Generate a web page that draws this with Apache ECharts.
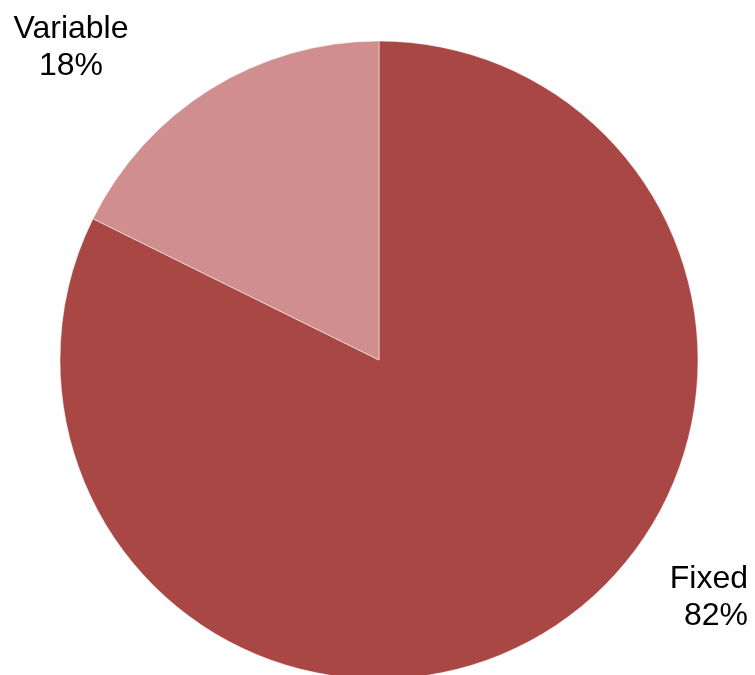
<!DOCTYPE html>
<html>
<head>
<meta charset="utf-8">
<script src="https://cdn.jsdelivr.net/npm/echarts@6/dist/echarts.min.js"></script>
<style>html,body{margin:0;padding:0;background:#fff}#c{width:755px;height:675px}</style>
</head>
<body>
<div id="c"></div>
<script>
const categories = ['Fixed', 'Variable'];
const values = [82.3, 17.7];
const colors = ['#A94745', '#D08F8E'];
const labelSpots = [[748, 598, 'right'], [71, 48, 'center']];

const chart = echarts.init(document.getElementById('c'));
chart.setOption({
  animation: false,
  series: [{
    type: 'pie',
    center: [379, 360],
    radius: 319,
    startAngle: 90,
    clockwise: true,
    data: categories.map((n, i) => ({
      name: n, value: values[i], itemStyle: { color: colors[i] },
      label: { align: labelSpots[i][2] }
    })),
    itemStyle: { borderColor: '#fff', borderWidth: 0.5 },
    label: {
      show: true,
      position: 'outside',
      formatter: p => p.name + '\n' + Math.round(p.value) + '%',
      fontFamily: 'Liberation Sans, Arial, sans-serif',
      fontSize: 32,
      lineHeight: 37,
      color: '#000'
    },
    labelLine: { show: false },
    labelLayout: function (params) {
      const s = labelSpots[params.dataIndex];
      return { x: s[0], y: s[1], align: s[2], verticalAlign: 'middle' };
    }
  }]
});
</script>
</body>
</html>
